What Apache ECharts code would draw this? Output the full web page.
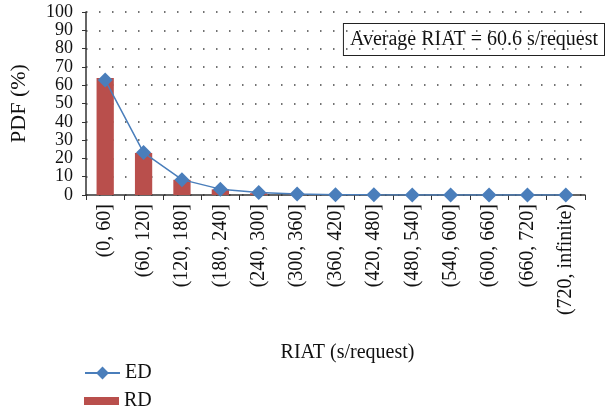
<!DOCTYPE html>
<html>
<head>
<meta charset="utf-8">
<script src="https://fastly.jsdelivr.net/npm/echarts@6/dist/echarts.min.js"></script>
<style>
  html, body { margin: 0; padding: 0; background: #fff; }
  #chart { width: 608px; height: 417px; }
</style>
</head>
<body>
<div id="chart"></div>
<script>
// bins of request inter-arrival time
const categories = [
  "(0, 60]", "(60, 120]", "(120, 180]", "(180, 240]", "(240, 300]", "(300, 360]",
  "(360, 420]", "(420, 480]", "(480, 540]", "(540, 600]", "(600, 660]", "(660, 720]", "(720, infinite)"
];
// RD = measured (bars), ED = fitted (line)
const rdValues = [64, 23, 8.3, 3.1, 1.0, 0.3, 0.1, 0.05, 0, 0, 0, 0, 0];
const edValues = [62.8, 23.2, 8.4, 3.2, 1.3, 0.5, 0.2, 0.1, 0.05, 0.02, 0.01, 0, 0];
const yTicks = [0, 10, 20, 30, 40, 50, 60, 70, 80, 90, 100];

const font = "'Liberation Serif', 'DejaVu Serif', serif";
const chart = echarts.init(document.getElementById("chart"));

chart.setOption({
  animation: false,
  textStyle: { fontFamily: font, color: "#111" },
  grid: { left: 84, right: 23, top: 12, bottom: 222, containLabel: false },
  legend: [
    {
      orient: "vertical",
      left: 84,
      top: 363,
      padding: 0,
      itemWidth: 35,
      itemHeight: 16,
      textStyle: { fontFamily: font, fontSize: 20, color: "#111" },
      data: [{ name: "ED" }],
    },
    {
      orient: "vertical",
      left: 84,
      top: 391,
      padding: 0,
      itemWidth: 35,
      itemHeight: 8,
      textStyle: { fontFamily: font, fontSize: 20, color: "#111" },
      data: [{ name: "RD", icon: "rect" }],
    },
  ],
  xAxis: {
    type: "category",
    data: categories,
    name: "RIAT (s/request)",
    nameLocation: "middle",
    nameGap: 148,
    nameTextStyle: { fontFamily: font, fontSize: 20, color: "#111", padding: [0, 0, 0, 24] },
    axisLine: { lineStyle: { color: "#333", width: 1.5 } },
    axisTick: { show: true, alignWithLabel: false, length: 5, lineStyle: { color: "#333" } },
    axisLabel: { rotate: 90, fontFamily: font, fontSize: 20, color: "#111", margin: 9, interval: 0 },
  },
  yAxis: {
    type: "value",
    min: 0,
    max: 100,
    interval: 10,
    name: "PDF (%)",
    nameLocation: "middle",
    nameGap: 56,
    nameRotate: 90,
    nameTextStyle: { fontFamily: font, fontSize: 22, color: "#111" },
    axisLine: { show: true, lineStyle: { color: "#333", width: 1.5 } },
    axisTick: { show: true, length: 4, lineStyle: { color: "#333" } },
    axisLabel: {
      fontFamily: font, fontSize: 18, color: "#111", margin: 13,
      formatter: (v) => (yTicks.includes(v) ? String(v) : ""),
    },
    splitLine: { show: true, lineStyle: { color: "#444", width: 1.5, type: [1.5, 11.5] } },
  },
  series: [
    {
      name: "RD",
      type: "bar",
      data: rdValues,
      barWidth: "45%",
      itemStyle: { color: "#B94F4C" },
    },
    {
      name: "ED",
      type: "line",
      data: edValues,
      symbol: "diamond",
      symbolSize: 15,
      lineStyle: { color: "#4A7EBB", width: 1.5 },
      itemStyle: { color: "#4A7EBB" },
    },
  ],
  graphic: [
    {
      type: "text",
      right: 3,
      top: 23,
      style: {
        text: "Average RIAT = 60.6 s/request",
        fontFamily: font,
        fontSize: 20,
        fill: "#111",
        backgroundColor: "#fff",
        borderColor: "#222",
        borderWidth: 1,
        padding: [6, 6, 5, 6],
      },
    },
  ],
});
</script>
</body>
</html>
